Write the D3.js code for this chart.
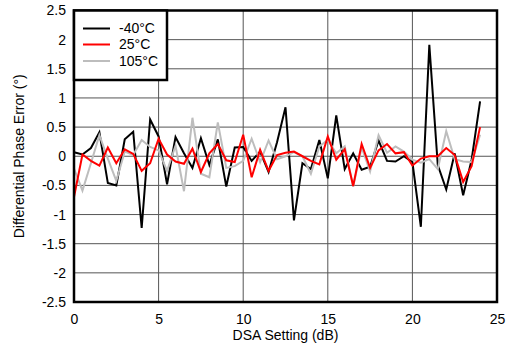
<!DOCTYPE html>
<html>
<head>
<meta charset="utf-8">
<script src="https://cdn.jsdelivr.net/npm/d3@7"></script>
<style>
  html, body { margin: 0; padding: 0; background: #fff; }
  text { font-family: "Liberation Sans", Arial, Helvetica, sans-serif; }
</style>
</head>
<body>
<svg id="chart" width="510" height="350"></svg>
<script>
const dsaSettings = [0,0.5,1,1.5,2,2.5,3,3.5,4,4.5,5,5.5,6,6.5,7,7.5,8,8.5,9,9.5,10,10.5,11,11.5,12,12.5,13,13.5,14,14.5,15,15.5,16,16.5,17,17.5,18,18.5,19,19.5,20,20.5,21,21.5,22,22.5,23,23.5,24];
const seriesNames = ["-40°C", "25°C", "105°C"];
const seriesM40 = [0.07,0.03,0.14,0.41,-0.46,-0.5,0.29,0.42,-1.23,0.63,0.34,-0.48,0.33,0.05,-0.2,0.31,-0.15,0.29,-0.52,0.15,0.16,-0.08,0.08,-0.27,0.24,0.84,-1.1,-0.12,-0.22,0.28,-0.38,0.7,-0.22,0.05,-0.23,-0.18,0.27,-0.08,-0.09,0.0,-0.1,-1.21,1.91,-0.15,-0.57,0.05,-0.67,-0.06,0.94];
const series25 = [-0.7,0.03,-0.08,-0.16,0.15,-0.12,0.12,0.04,-0.25,-0.12,0.3,0.03,-0.09,-0.13,0.13,-0.27,0.05,0.21,-0.07,-0.1,0.37,-0.36,0.11,-0.25,0.02,0.06,0.08,0.0,-0.08,-0.14,0.34,-0.06,0.12,-0.51,0.21,-0.2,0.1,0.21,0.05,0.07,-0.16,-0.04,0.0,0.0,0.14,0.02,-0.44,-0.17,0.5];
const series105 = [-0.21,-0.59,-0.12,0.36,-0.04,-0.42,0.08,0.02,0.28,0.16,0.1,-0.25,0.18,-0.6,0.66,-0.3,-0.36,0.58,-0.2,-0.17,-0.08,0.3,-0.1,0.27,-0.05,0.0,0.07,0.0,-0.3,0.17,0.28,0.05,0.17,-0.52,0.15,-0.26,0.36,0.06,0.17,0.08,-0.06,-0.11,-0.05,-0.22,0.43,-0.05,-0.09,-0.1,0.37];
const seriesColors = ["#000000", "#ff0000", "#bdbdbd"];
const xTicks = [0,5,10,15,20,25];
const yTicks = [-2.5,-2,-1.5,-1,-0.5,0,0.5,1,1.5,2,2.5];

const svg = d3.select("#chart");
const L = 74, R = 497, T = 10.5, B = 302;
const x = d3.scaleLinear().domain([0,25]).range([L,R]);
const y = d3.scaleLinear().domain([-2.5,2.5]).range([B,T]);

// gridlines
const grid = svg.append("g");
grid.selectAll(".hg").data(yTicks.slice(1,-1)).enter().append("line")
  .attr("x1", L).attr("x2", R).attr("y1", d=>y(d)).attr("y2", d=>y(d))
  .attr("stroke", "#555").attr("stroke-width", 1);
grid.selectAll(".vg").data(xTicks.slice(1,-1)).enter().append("line")
  .attr("y1", T).attr("y2", B).attr("x1", d=>x(d)).attr("x2", d=>x(d))
  .attr("stroke", "#555").attr("stroke-width", 1);

// axes labels via d3 axes
const xAxis = d3.axisBottom(x).tickValues(xTicks).tickSize(0).tickPadding(12).tickFormat(d3.format("d"));
const gx = svg.append("g").attr("transform", `translate(0,${B})`).call(xAxis);
gx.select(".domain").remove();
gx.selectAll("text").attr("font-size", 14).attr("fill", "#000")
  .style("font-family", '"Liberation Sans", Arial, sans-serif');

const yAxis = d3.axisLeft(y).tickValues(yTicks).tickSize(0).tickPadding(8)
  .tickFormat(d => d === 0 ? "0" : String(d));
const gy = svg.append("g").attr("transform", `translate(${L},0)`).call(yAxis);
gy.select(".domain").remove();
gy.selectAll("text").attr("font-size", 14).attr("fill", "#000")
  .style("font-family", '"Liberation Sans", Arial, sans-serif');

// lines
const allSeries = [seriesM40, series25, series105];
const lineGen = d3.line().x((d,i)=>x(dsaSettings[i])).y(d=>y(d));
const drawOrder = [2,1,0];
// draw -40 first? reference: black appears under red/gray in places; draw black, gray, red
[0,2,1].forEach(k => {
  svg.append("path").datum(allSeries[k])
    .attr("d", lineGen)
    .attr("fill", "none")
    .attr("stroke", seriesColors[k])
    .attr("stroke-width", 2)
    .attr("stroke-linejoin", "miter");
});

// frame
svg.append("rect").attr("x", L).attr("y", T).attr("width", R-L).attr("height", B-T)
  .attr("fill", "none").attr("stroke", "#000").attr("stroke-width", 2.5);

// legend
const lg = svg.append("g");
lg.append("rect").attr("x", L).attr("y", T).attr("width", 93).attr("height", 69.5)
  .attr("fill", "#fff").attr("stroke", "#000").attr("stroke-width", 2.5);
const legY = [28.5, 44.5, 61];
seriesNames.forEach((n,i) => {
  lg.append("line").attr("x1", 83).attr("x2", 110).attr("y1", legY[i]).attr("y2", legY[i])
    .attr("stroke", seriesColors[i]).attr("stroke-width", 2);
  lg.append("text").attr("x", 119).attr("y", legY[i]).attr("dy", "0.35em")
    .attr("font-size", 14).attr("fill", "#000").text(n);
});

// axis titles
svg.append("text").attr("x", (L+R)/2).attr("y", 340).attr("text-anchor", "middle")
  .attr("font-size", 14).attr("fill", "#000").text("DSA Setting (dB)");
svg.append("text").attr("transform", `translate(24,${(T+B)/2}) rotate(-90)`)
  .attr("text-anchor", "middle").attr("font-size", 14).attr("fill", "#000")
  .text("Differential Phase Error (°)");
</script>
</body>
</html>
